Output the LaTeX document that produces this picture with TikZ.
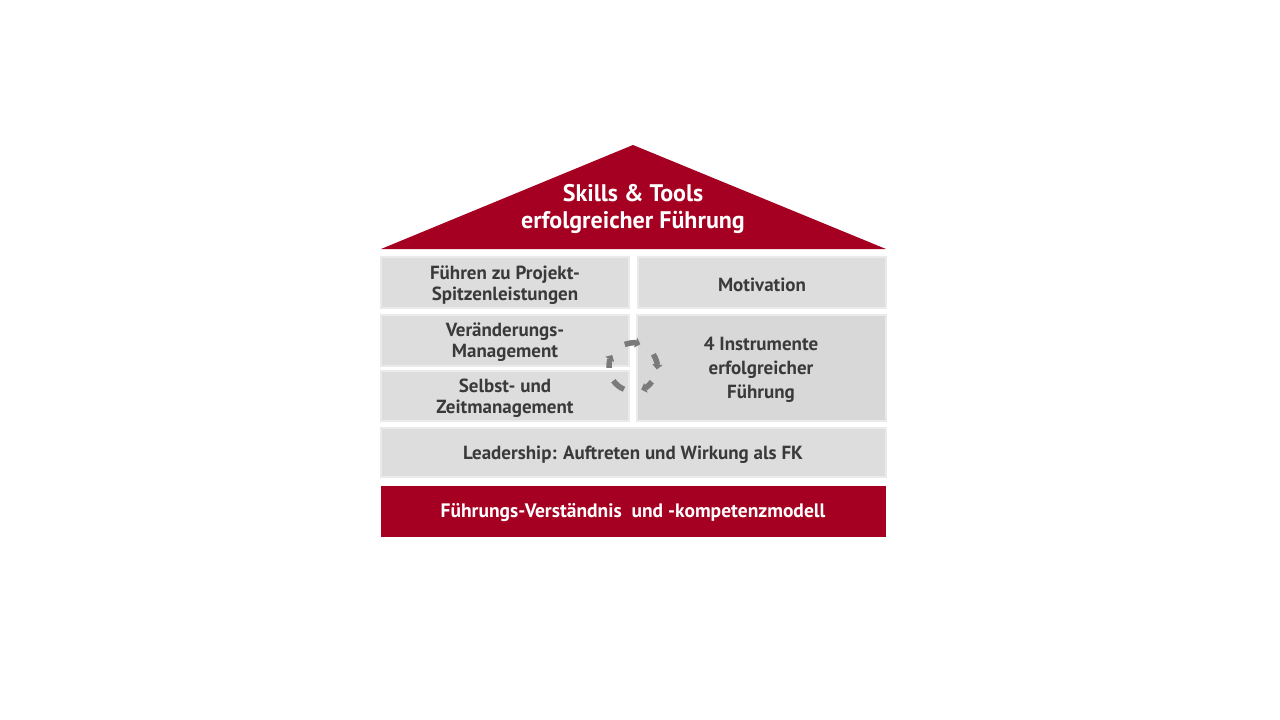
\documentclass[tikz,border=0pt]{standalone}
\usepackage{fontspec}
\setmainfont{PT Sans}
\usetikzlibrary{arrows.meta}
\definecolor{hred}{HTML}{A50021}
\definecolor{boxfill}{HTML}{DDDDDD}
\definecolor{boxfilldark}{HTML}{D8D8D8}
\definecolor{boxedge}{HTML}{EAEAEA}
\definecolor{txt}{HTML}{3A3A3A}
\definecolor{arrowgray}{HTML}{7A7A7A}
\tikzset{
  pillar/.style={fill=boxfill, draw=boxedge, line width=1.2pt},
  lbl/.style={text=txt, font=\fontsize{19}{21.5}\selectfont\bfseries, align=center},
  wlbl/.style={text=white, font=\fontsize{19.5}{21}\selectfont\bfseries, align=center},
  cyc/.style={draw=arrowgray, line width=5.5pt, -{Triangle[length=5pt,width=10pt]}}
}
\begin{document}
\begin{tikzpicture}[x=1pt,y=-1pt]
\useasboundingbox (0,0) rectangle (1280,720);
% roof
\fill[hred] (381,249) -- (633,145) -- (886,249) -- cycle;
\node[text=white, font=\fontsize{24}{27}\selectfont\bfseries, align=center] (roof) at (633,209) {Skills \& Tools\\erfolgreicher Führung};
% row 1
\draw[pillar] (381,257) rectangle (629,308);
\node[lbl] (fp) at (505,285) {Führen zu Projekt-\\Spitzenleistungen};
\draw[pillar] (638,257) rectangle (886,308);
\node[lbl] (mot) at (762,285) {Motivation};
% row 2/3
\draw[pillar] (381,315) rectangle (629,366);
\node[lbl] (vm) at (505,342) {Veränderungs-\\Management};
\draw[pillar] (381,371) rectangle (629,421);
\node[lbl] (sz) at (505,398) {Selbst- und\\Zeitmanagement};
\draw[pillar, fill=boxfilldark] (637,315) rectangle (886,421);
\node[lbl, font=\fontsize{19}{24}\selectfont\bfseries] (ins) at (761,370) {4 Instrumente\\erfolgreicher\\Führung};
% cycle arrows
\coordinate (c) at (633,367);
\draw[cyc] ([shift={(-110:24)}]c) arc[start angle=-110, end angle=-72, radius=24];
\draw[cyc] ([shift={(-32:24)}]c) arc[start angle=-32, end angle=6, radius=24];
\draw[cyc] ([shift={(38:24)}]c) arc[start angle=38, end angle=70, radius=24];
\draw[draw=arrowgray, line width=5.5pt] ([shift={(112:24)}]c) arc[start angle=112, end angle=145, radius=24];
\draw[cyc] ([shift={(178:24)}]c) arc[start angle=178, end angle=210, radius=24];
% leadership
\draw[pillar] (381,428) rectangle (886,477);
\node[lbl] (lead) at (633,455) {Leadership: Auftreten und Wirkung als FK};
% foundation
\fill[hred] (381,486) rectangle (886,537);
\node[wlbl] (base) at (633,513) {Führungs-Verständnis\ \ und -kompetenzmodell};
\end{tikzpicture}
\end{document}
